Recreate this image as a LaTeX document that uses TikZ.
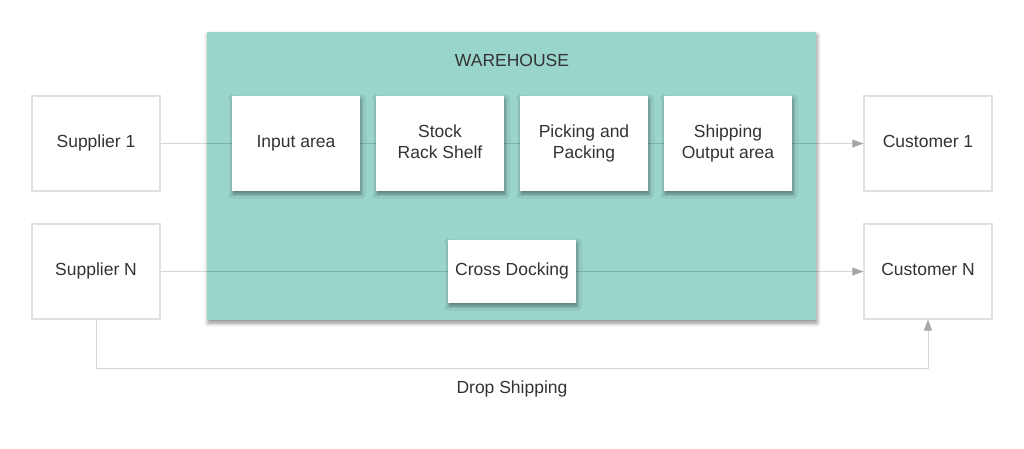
\documentclass[tikz,border=0pt]{standalone}
\usepackage{fontspec}
\setmainfont{Liberation Sans}
\usetikzlibrary{shadows.blur,arrows.meta}
\definecolor{teal1}{HTML}{9AD5CB}
\definecolor{txt}{HTML}{333333}
\definecolor{bord}{HTML}{E0E0E0}
\definecolor{conn}{HTML}{D6D6D6}
\definecolor{arr}{HTML}{A6A6A6}
\newcommand{\ts}{\fontsize{17.5}{21}\selectfont}
\tikzset{
  outer/.style={draw=bord, line width=1.2pt, fill=white, minimum width=128pt, minimum height=95pt, inner sep=0pt, text=txt, font=\ts, align=center},
  inner/.style={fill=white, minimum width=128pt, minimum height=95pt, inner sep=0pt, text=txt, font=\ts, align=center,
    blur shadow={shadow xshift=1pt, shadow yshift=-3pt, shadow blur radius=4pt, shadow opacity=45}},
  conline/.style={draw=black, draw opacity=0.16, line width=1pt},
  arrline/.style={draw=conn, line width=1pt, -{Triangle[length=11pt,width=8pt,fill=arr,color=arr]}},
  lbl/.style={text=txt, font=\ts}
}
\begin{document}
\begin{tikzpicture}[x=1pt,y=-1pt]
\useasboundingbox (0,0) rectangle (1024,448);
% warehouse
\node[fill=teal1, minimum width=609pt, minimum height=288pt, inner sep=0pt,
  blur shadow={shadow xshift=1pt, shadow yshift=-3pt, shadow blur radius=4pt, shadow opacity=45}] (wh) at (511.5,176) {};
\node[lbl] (whl) at (512,62) {\strut WAREHOUSE};
% outer nodes
\node[outer] (s1) at (96,143.5) {\strut Supplier 1};
\node[outer] (sn) at (96,271.5) {\strut Supplier N};
\node[outer] (c1) at (928,143.5) {\strut Customer 1};
\node[outer] (cn) at (928,271.5) {\strut Customer N};
% inner nodes
\node[inner] (ia) at (296,143.5) {\strut Input area};
\node[inner] (sr) at (440,143.5) {\strut Stock\\\strut Rack Shelf};
\node[inner] (pp) at (584,143.5) {\strut Picking and\\\strut Packing};
\node[inner] (so) at (728,143.5) {\strut Shipping\\\strut Output area};
\node[inner, minimum height=63pt] (cd) at (512,271.5) {\strut Cross Docking};
% connectors
\draw[conline] (s1.east) -- (ia.west);
\draw[conline] (sn.east) -- (cd.west);
\draw[conline] (ia.east) -- (sr.west);
\draw[conline] (sr.east) -- (pp.west);
\draw[conline] (pp.east) -- (so.west);
\draw[conline] (so.east) -- (c1.west);
\draw[conline] (cd.east) -- (cn.west);
\draw[arrline, shorten <=50pt] (so.east) -- (c1.west);
\draw[arrline, shorten <=260pt] (cd.east) -- (cn.west);
\draw[arrline] (sn.south) -- (96,368) -- (928,368) -- (cn.south);
\node[lbl] (ds) at (512,389) {\strut Drop Shipping};
\end{tikzpicture}
\end{document}
